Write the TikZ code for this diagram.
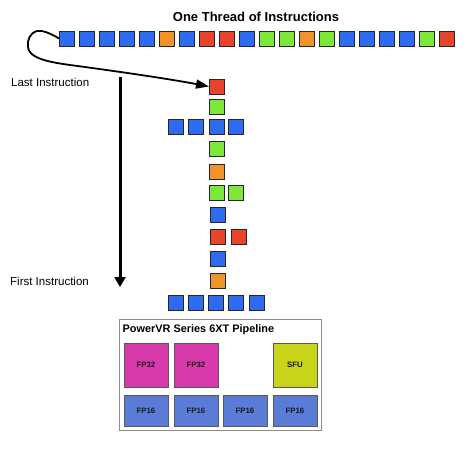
\documentclass[tikz,border=0pt]{standalone}
\usepackage{fontspec}
\setmainfont{Liberation Sans}
\usetikzlibrary{arrows.meta}
\definecolor{qb}{HTML}{2E6BF0}
\definecolor{qg}{HTML}{7EE83A}
\definecolor{qo}{HTML}{F0932B}
\definecolor{qr}{HTML}{E8432B}
\definecolor{cmag}{HTML}{D93AAB}
\definecolor{csfu}{HTML}{C8D41A}
\definecolor{cfp}{HTML}{5A7CD6}
\tikzset{
  sq/.style={draw=black!85, line width=0.9pt, minimum size=15pt, inner sep=0pt, outer sep=0pt},
  unit/.style={draw=black!65, line width=0.7pt, inner sep=0pt, outer sep=0pt, font=\fontsize{7.8}{9}\selectfont\bfseries, text=black!90},
  lbl/.style={font=\fontsize{11.5}{13}\selectfont, anchor=west, inner sep=0pt}
}
\begin{document}
\begin{tikzpicture}[x=1pt,y=-1pt]
\useasboundingbox (0,0) rectangle (466,450);
\fill[white] (0,0) rectangle (466,450);
% title
\node[font=\fontsize{13}{15}\selectfont\bfseries, inner sep=0pt] (title) at (256,17) {One Thread of Instructions};
% top row
\foreach \c [count=\i from 0] in {qb,qb,qb,qb,qb,qo,qb,qr,qr,qb,qg,qg,qo,qg,qb,qb,qb,qb,qg,qr} {
  \node[sq, fill=\c] (t\i) at (66.5+20*\i,38.5) {};
}
% column
\node[sq, fill=qr] (c1) at (216.5,86.5) {};
\node[sq, fill=qg] (c2) at (216.5,106.5) {};
\node[sq, fill=qb] (c3a) at (175.5,126.5) {};
\node[sq, fill=qb] (c3b) at (195.5,126.5) {};
\node[sq, fill=qb] (c3c) at (216.5,126.5) {};
\node[sq, fill=qb] (c3d) at (236,126.5) {};
\node[sq, fill=qg] (c4) at (216.5,149) {};
\node[sq, fill=qo] (c5) at (216.5,171.5) {};
\node[sq, fill=qg] (c6a) at (216.5,193) {};
\node[sq, fill=qg] (c6b) at (236,193) {};
\node[sq, fill=qb] (c7) at (217.5,214.5) {};
\node[sq, fill=qr] (c8a) at (217.5,236.5) {};
\node[sq, fill=qr] (c8b) at (238.5,236.5) {};
\node[sq, fill=qb] (c9) at (217.5,259) {};
\node[sq, fill=qo] (c10) at (217.5,280.5) {};
\foreach \x [count=\i] in {175.5,195.5,215.5,235.5,256.5} {
  \node[sq, fill=qb] (b\i) at (\x,303) {};
}
% labels
\node[lbl] (last) at (11,82) {Last Instruction};
\node[lbl] (first) at (10,281) {First Instruction};
% vertical arrow
\coordinate (va) at (120,77);
\coordinate (vb) at (120,287);
\draw[line width=3pt, -{Triangle[width=11pt,length=10pt]}] (va) -- (vb);
% curved arrow
\draw[line width=1.8pt, -{Triangle[width=9pt,length=13pt]}]
  (t0.west) .. controls (50,33) and (42,30) .. (37,31)
  .. controls (30,33) and (27,40) .. (28,47)
  .. controls (29,56) and (40,61) .. (70,65)
  .. controls (130,73) and (175,80) .. (c1.west);
% pipeline box
\node[draw=black!45, line width=0.9pt, fill=white, minimum width=202pt, minimum height=111pt, inner sep=0pt, anchor=north west] (pipe) at (119,319) {};
\node[font=\fontsize{10.9}{12}\selectfont\bfseries, anchor=west, inner sep=0pt] (ptitle) at (122.5,329.5) {PowerVR Series 6XT Pipeline};
\node[unit, fill=cmag, minimum width=44pt, minimum height=44pt] (fp32a) at (146,365) {FP32};
\node[unit, fill=cmag, minimum width=44pt, minimum height=44pt] (fp32b) at (196,365) {FP32};
\node[unit, fill=csfu, minimum width=44pt, minimum height=44pt] (sfu) at (295,365) {SFU};
\node[unit, fill=cfp, minimum width=44pt, minimum height=31pt] (fp16a) at (146,410.5) {FP16};
\node[unit, fill=cfp, minimum width=44pt, minimum height=31pt] (fp16b) at (196,410.5) {FP16};
\node[unit, fill=cfp, minimum width=44pt, minimum height=31pt] (fp16c) at (245,410.5) {FP16};
\node[unit, fill=cfp, minimum width=44pt, minimum height=31pt] (fp16d) at (295,410.5) {FP16};
\end{tikzpicture}
\end{document}
